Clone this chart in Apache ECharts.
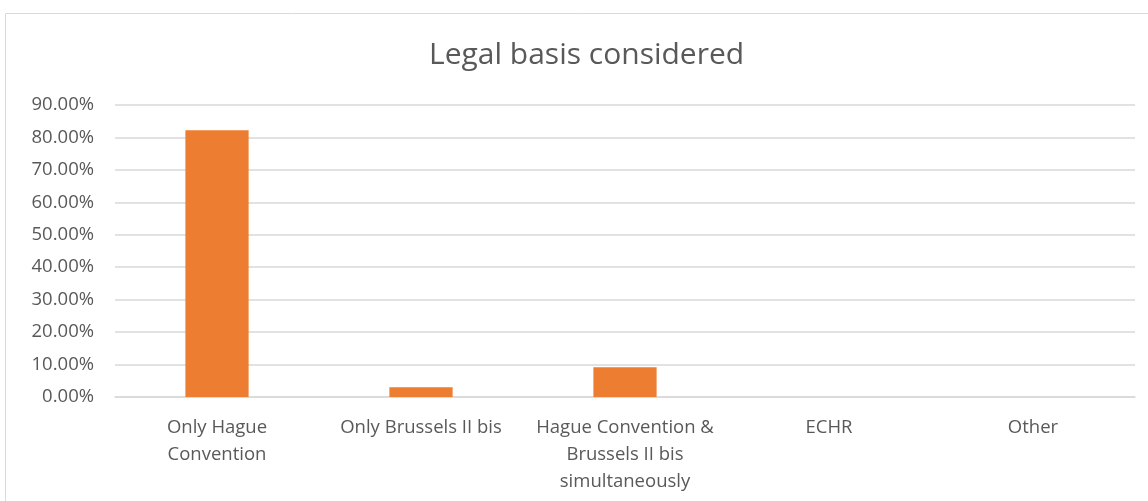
<!DOCTYPE html>
<html>
<head>
<meta charset="utf-8">
<script src="https://cdn.jsdelivr.net/npm/echarts@6/dist/echarts.min.js"></script>
<style>
  html, body { margin: 0; padding: 0; background: #fff; }
  #chart { width: 1148px; height: 501px; }
</style>
</head>
<body>
<div id="chart"></div>
<script>
// categories and values (percent)
const categories = [
  'Only Hague\nConvention',
  'Only Brussels II bis',
  'Hague Convention &\nBrussels II bis\nsimultaneously',
  'ECHR',
  'Other'
];
const shares = [82.2, 3.0, 9.2, 0, 0];

const chart = echarts.init(document.getElementById('chart'));
const font = '"Open Sans", "Liberation Sans", sans-serif';

chart.setOption({
  animation: false,
  title: {
    text: 'Legal basis considered',
    left: 424,
    top: 35,
    textStyle: { fontFamily: font, fontSize: 30, fontWeight: 'normal', color: '#595959' }
  },
  graphic: [{
    type: 'rect',
    shape: { x: 5.5, y: 13.5, width: 1160, height: 520 },
    style: { fill: 'none', stroke: '#d9d9d9', lineWidth: 1 },
    silent: true
  }],
  grid: { left: 115, right: 13, top: 105, bottom: 104 },
  xAxis: {
    type: 'category',
    data: categories,
    axisLine: { lineStyle: { color: '#d9d9d9', width: 1.5 } },
    axisTick: { show: false },
    axisLabel: {
      interval: 0,
      margin: 17,
      fontFamily: font,
      fontSize: 18.5,
      lineHeight: 27,
      color: '#595959'
    }
  },
  yAxis: {
    type: 'value',
    min: 0,
    max: 90,
    interval: 10,
    axisLine: { show: false },
    axisTick: { show: false },
    splitLine: { lineStyle: { color: '#d9d9d9', width: 1.5 } },
    axisLabel: {
      margin: 21,
      fontFamily: font,
      fontSize: 18.5,
      color: '#595959',
      formatter: v => v.toFixed(2) + '%'
    }
  },
  series: [{
    type: 'bar',
    data: shares,
    barWidth: '31%',
    itemStyle: { color: '#ed7d31' }
  }]
});
</script>
</body>
</html>
